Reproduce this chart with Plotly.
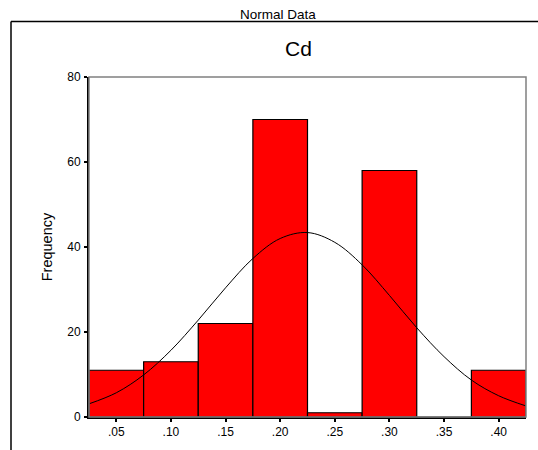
import plotly.graph_objects as go

# ---- data ----
bin_centers = [0.05, 0.10, 0.15, 0.20, 0.25, 0.30, 0.35, 0.40]
frequencies = [11, 13, 22, 70, 1, 58, 0, 11]

curve_x = [0.025, 0.05, 0.075, 0.10, 0.125, 0.15, 0.175, 0.20, 0.225,
           0.25, 0.275, 0.30, 0.325, 0.35, 0.375, 0.40, 0.425]
curve_y = [3.1, 5.7, 9.9, 15.7, 22.8, 30.4, 37.3, 42.0, 43.4,
           41.1, 35.8, 28.6, 21.0, 14.2, 8.7, 5.0, 2.6]

x_tick_vals = [0.05, 0.10, 0.15, 0.20, 0.25, 0.30, 0.35, 0.40]
x_tick_text = [".05", ".10", ".15", ".20", ".25", ".30", ".35", ".40"]
y_tick_vals = [0, 20, 40, 60, 80]

W, H = 538, 450
L, R, T, B = 89, 12, 76.5, 33.3
pw, ph = W - L - R, H - T - B

def px_x(p):
    return (p - L) / pw

def px_y(p):
    return (H - B - p) / ph

FONT = "Liberation Sans, Arial, sans-serif"

fig = go.Figure()
fig.add_trace(go.Bar(
    x=bin_centers, y=frequencies, width=0.05,
    marker=dict(color="#FF0000", line=dict(color="black", width=1.2)),
    hoverinfo="skip",
))
fig.add_trace(go.Scatter(
    x=curve_x, y=curve_y, mode="lines",
    line=dict(color="black", width=1, shape="spline"),
    hoverinfo="skip",
))

shapes = [
    # gray plot frame
    dict(type="rect", xref="paper", yref="paper", x0=0, x1=1, y0=0, y1=1,
         line=dict(color="#808080", width=1.5), layer="above"),
    # outer chart frame (top and left)
    dict(type="line", xref="paper", yref="paper",
         x0=px_x(11), x1=px_x(540), y0=px_y(21), y1=px_y(21),
         line=dict(color="black", width=1.5)),
    dict(type="line", xref="paper", yref="paper",
         x0=px_x(11), x1=px_x(11), y0=px_y(21), y1=px_y(452),
         line=dict(color="black", width=1.5)),
]

annotations = [
    dict(text="Normal Data", xref="paper", yref="paper", x=px_x(278), y=px_y(14),
         showarrow=False, font=dict(family=FONT, size=13.5, color="black"),
         xanchor="center", yanchor="middle"),
    dict(text="Cd", xref="paper", yref="paper", x=px_x(298), y=px_y(48),
         showarrow=False, font=dict(family=FONT, size=21, color="black"),
         xanchor="center", yanchor="middle"),
]

fig.update_layout(
    width=W, height=H,
    margin=dict(l=L, r=R, t=T, b=B, pad=0),
    paper_bgcolor="white", plot_bgcolor="white",
    showlegend=False, bargap=0,
    font=dict(family=FONT, size=12, color="black"),
    shapes=shapes, annotations=annotations,
    xaxis=dict(range=[0.025, 0.425], tickvals=x_tick_vals, ticktext=x_tick_text,
               showgrid=False, zeroline=False, showline=True, linecolor="black",
               linewidth=2, ticks="outside", ticklen=3, tickwidth=2,
               tickcolor="black", tickfont=dict(size=12)),
    yaxis=dict(range=[0, 80], tickvals=y_tick_vals, showgrid=False, zeroline=False,
               showline=True, linecolor="black", linewidth=2, ticks="outside",
               ticklen=3, tickwidth=2, tickcolor="black", tickfont=dict(size=12),
               ticklabelstandoff=1,
               title=dict(text="Frequency", font=dict(size=14.5), standoff=11)),
)

fig.write_html("out.html",
               config={"displayModeBar": False, "staticPlot": True},
               post_script="document.body.style.margin='0';document.body.style.overflow='hidden';")
